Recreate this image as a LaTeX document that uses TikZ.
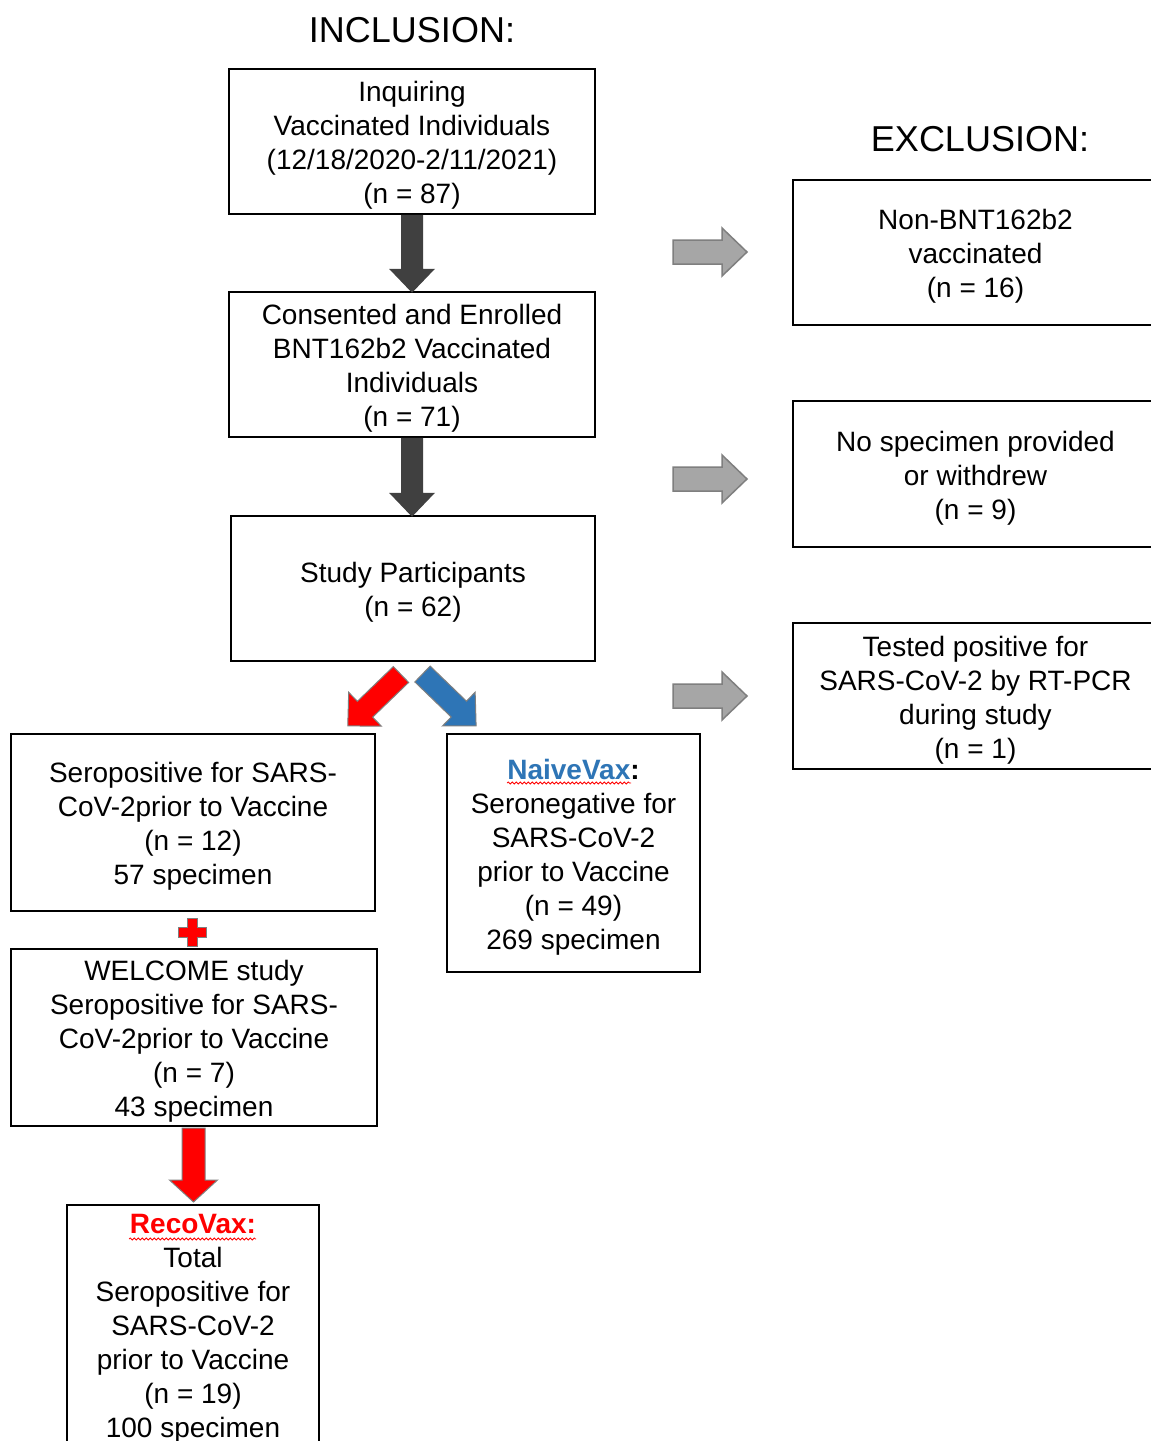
\documentclass[tikz,border=0pt]{standalone}
\usepackage{fontspec}
\setmainfont{Liberation Sans}
\usetikzlibrary{decorations.pathmorphing}
\definecolor{darkarrow}{HTML}{404040}
\definecolor{lgray}{HTML}{A6A6A6}
\definecolor{bgray}{HTML}{7F7F7F}
\definecolor{nblue}{HTML}{2E75B6}
\definecolor{rred}{HTML}{FF0000}
% style, start, angle, length, shaft half width, head half width, head length
\newcommand\blkarrow[7]{%
  \path[#1, shift={#2}, rotate=#3] (0,-#5) -- ({#4-#7},-#5) -- ({#4-#7},-#6) -- (#4,0)
    -- ({#4-#7},#6) -- ({#4-#7},#5) -- (0,#5) -- cycle;}
\begin{document}
\begin{tikzpicture}[x=1pt,y=-1pt,
  box/.style={draw=black, line width=1.5pt, rectangle, inner sep=0pt},
  txt/.style={inner sep=0pt, align=center, font=\fontsize{28}{34}\selectfont},
  title/.style={font=\fontsize{36}{40}\selectfont, inner sep=0pt},
  darrowst/.style={fill=darkarrow, draw=none},
  garrowst/.style={fill=lgray, draw=bgray, line width=1.5pt},
  rarrowst/.style={fill=rred, draw=bgray, line width=1pt},
  barrowst/.style={fill=nblue, draw=bgray, line width=1pt},
  wavy/.style={draw=rred, line width=0.8pt, decorate, decoration={snake, amplitude=1pt, segment length=4pt}}
]
\useasboundingbox[fill=white] (0,0) rectangle (1151,1441);

\node[title] (inc) at (412,30) {INCLUSION:};
\node[title] (exc) at (980,139) {EXCLUSION:};

\node[box, minimum width=366, minimum height=145] (b1) at (412,141.5) {};
\node[txt] (b1t) at ([yshift=-4pt]b1.center)
  {Inquiring\\Vaccinated Individuals\\(12/18/2020-2/11/2021)\\(n = 87)};
\node[box, minimum width=366, minimum height=145] (b2) at (412,364.5) {};
\node[txt] (b2t) at ([yshift=-4pt]b2.center)
  {Consented and Enrolled\\BNT162b2 Vaccinated\\Individuals\\(n = 71)};
\node[box, minimum width=364, minimum height=145] (b3) at (413,588.5) {};
\node[txt] (b3t) at ([yshift=-4pt]b3.center)
  {Study Participants\\(n = 62)};

\node[box, minimum width=365, minimum height=145] (e1) at (975.5,252.5) {};
\node[txt] (e1t) at ([yshift=-4pt]e1.center)
  {Non-BNT162b2\\vaccinated\\(n = 16)};
\node[box, minimum width=365, minimum height=146] (e2) at (975.5,474) {};
\node[txt] (e2t) at ([yshift=-4pt]e2.center)
  {No specimen provided\\or withdrew\\(n = 9)};
\node[box, minimum width=365, minimum height=146] (e3) at (975.5,696) {};
\node[txt] (e3t) at ([yshift=-4pt]e3.center)
  {Tested positive for\\SARS-CoV-2 by RT-PCR\\during study\\(n = 1)};

\node[box, minimum width=364, minimum height=177] (s1) at (193,822.5) {};
\node[txt] (s1t) at ([yshift=-4pt]s1.center)
  {Seropositive for SARS-\\CoV-2prior to Vaccine\\(n = 12)\\57 specimen};
\node[box, minimum width=253, minimum height=238] (nv) at (573.5,853) {};
\node[txt] (nvt) at ([yshift=-4pt]nv.center)
  {\textbf{\textcolor{nblue}{NaiveVax}:}\\Seronegative for\\SARS-CoV-2\\prior to Vaccine\\(n = 49)\\269 specimen};
\node[box, minimum width=366, minimum height=177] (wc) at (194,1037.5) {};
\node[txt] (wct) at ([yshift=-4pt]wc.center)
  {WELCOME study\\Seropositive for SARS-\\CoV-2prior to Vaccine\\(n = 7)\\43 specimen};
\node[box, minimum width=252, minimum height=240] (rv) at (193,1325) {};
\node[txt] (rvt) at ([yshift=-4pt]rv.center)
  {\textbf{\textcolor{rred}{RecoVax:}}\\Total\\Seropositive for\\SARS-CoV-2\\prior to Vaccine\\(n = 19)\\100 specimen};

% spell-check underlines
\path[wavy] (507,783) -- (631,783);
\path[wavy] (129,1239) -- (256,1239);

% dark down arrows
\blkarrow{darrowst}{(b1.south)}{-90}{78}{11}{23}{24}
\blkarrow{darrowst}{(b2.south)}{-90}{79}{11}{23}{24}

% gray exclusion arrows
\coordinate (g1) at (673,252);
\coordinate (g2) at (673,479);
\coordinate (g3) at (673,696);
\blkarrow{garrowst}{(g1)}{0}{74}{12}{24}{25}
\blkarrow{garrowst}{(g2)}{0}{74}{12}{24}{25}
\blkarrow{garrowst}{(g3)}{0}{74}{12}{24}{25}

% red and blue split arrows
\coordinate (rs) at (401,674.5);
\coordinate (bs) at (422.5,674);
\blkarrow{rarrowst}{(rs)}{-136}{74}{11}{23.5}{24}
\blkarrow{barrowst}{(bs)}{-44}{74.5}{11}{23.5}{24}

% plus sign
\coordinate (pl) at (192,932);
\path[fill=rred, draw=bgray, line width=0.8pt, shift={(pl)}]
  (-5,-14) -- (5,-14) -- (5,-5) -- (14,-5) -- (14,5) -- (5,5) -- (5,14) -- (-5,14)
  -- (-5,5) -- (-14,5) -- (-14,-5) -- (-5,-5) -- cycle;

% red down arrow
\coordinate (rd) at (193.5,1128);
\blkarrow{rarrowst}{(rd)}{-90}{74}{11.5}{24}{22}
\end{tikzpicture}
\end{document}
